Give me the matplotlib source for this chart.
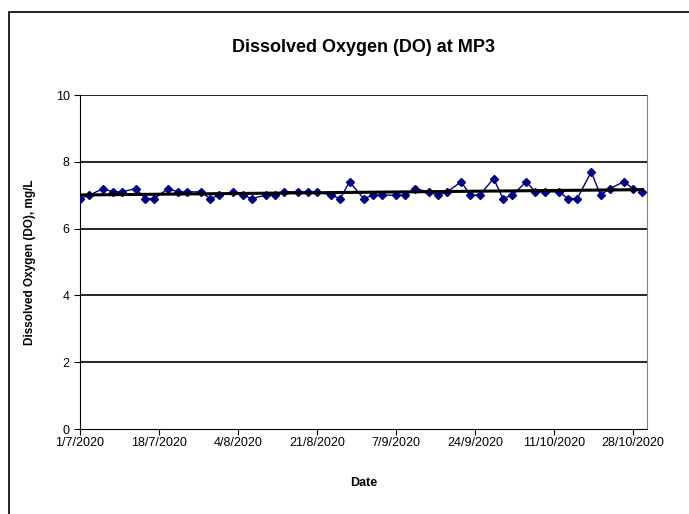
import numpy as np
import pandas as pd
import matplotlib
matplotlib.use('Agg')
import matplotlib.pyplot as plt
import matplotlib.dates as mdates
from matplotlib.patches import Rectangle

# Sampling dates (Mon/Wed/Fri) and dissolved oxygen readings, mg/L
dates = pd.date_range("2020-07-01", "2020-10-30", freq="D")
dates = dates[dates.dayofweek.isin([0, 2, 4])]
do_values = [6.9, 7.0, 7.2, 7.1, 7.1, 7.2, 6.9, 6.9, 7.2, 7.1,
             7.1, 7.1, 6.9, 7.0, 7.1, 7.0, 6.9, 7.0, 7.0, 7.1,
             7.1, 7.1, 7.1, 7.0, 6.9, 7.4, 6.9, 7.0, 7.0, 7.0,
             7.0, 7.2, 7.1, 7.0, 7.1, 7.4, 7.0, 7.0, 7.5, 6.9,
             7.0, 7.4, 7.1, 7.1, 7.1, 6.9, 6.9, 7.7, 7.0, 7.2,
             7.4, 7.2, 7.1]

tick_dates = pd.date_range("2020-07-01", periods=8, freq="17D")
tick_labels = ["1/7/2020", "18/7/2020", "4/8/2020", "21/8/2020",
               "7/9/2020", "24/9/2020", "11/10/2020", "28/10/2020"]

plt.rcParams['font.family'] = ['Liberation Sans', 'DejaVu Sans']

fig = plt.figure(figsize=(6.89, 5.14), dpi=100)
# outer chart border
fig.patches.append(Rectangle((9 / 689, -0.1), 1.0, 1 - 12 / 514 + 0.1,
                             transform=fig.transFigure, fill=False,
                             edgecolor='black', linewidth=1.2))

ax = fig.add_axes([80 / 689, 1 - 429 / 514, (647 - 80) / 689, (429 - 95) / 514])

x = mdates.date2num(dates)
ax.plot(x, do_values, color='#000080', linewidth=1, marker='D',
        markersize=4, markerfacecolor='#000080', markeredgecolor='#000080', zorder=3)

# linear trend line
coef = np.polyfit(x, do_values, 1)
xt = np.array([x[0], x[-1]])
ax.plot(xt, np.polyval(coef, xt), color='black', linewidth=2.2, zorder=4)

ax.set_ylim(0, 10)
ax.set_yticks([0, 2, 4, 6, 8, 10])
ax.set_xlim(mdates.date2num(pd.Timestamp("2020-07-01")),
            mdates.date2num(pd.Timestamp("2020-10-31")))
ax.set_xticks(mdates.date2num(tick_dates))
ax.set_xticklabels(tick_labels)

for yv in [2, 4, 6, 8, 10]:
    ax.axhline(yv, color='black', linewidth=1.2, zorder=1)

ax.spines['top'].set_visible(False)
ax.spines['right'].set_color('#808080')
ax.spines['left'].set_color('black')
ax.spines['bottom'].set_color('black')
ax.tick_params(axis='both', direction='out', length=4, labelsize=9, colors='black')
ax.tick_params(axis='x', pad=2)

ax.set_title("Dissolved Oxygen (DO) at MP3", fontsize=13, fontweight='bold', pad=31)
ax.set_xlabel("Date", fontsize=9, fontweight='bold', labelpad=20)
ax.set_ylabel("Dissolved Oxygen (DO), mg/L", fontsize=8.5, fontweight='bold', labelpad=14)

fig.savefig("out.png", dpi=100)
